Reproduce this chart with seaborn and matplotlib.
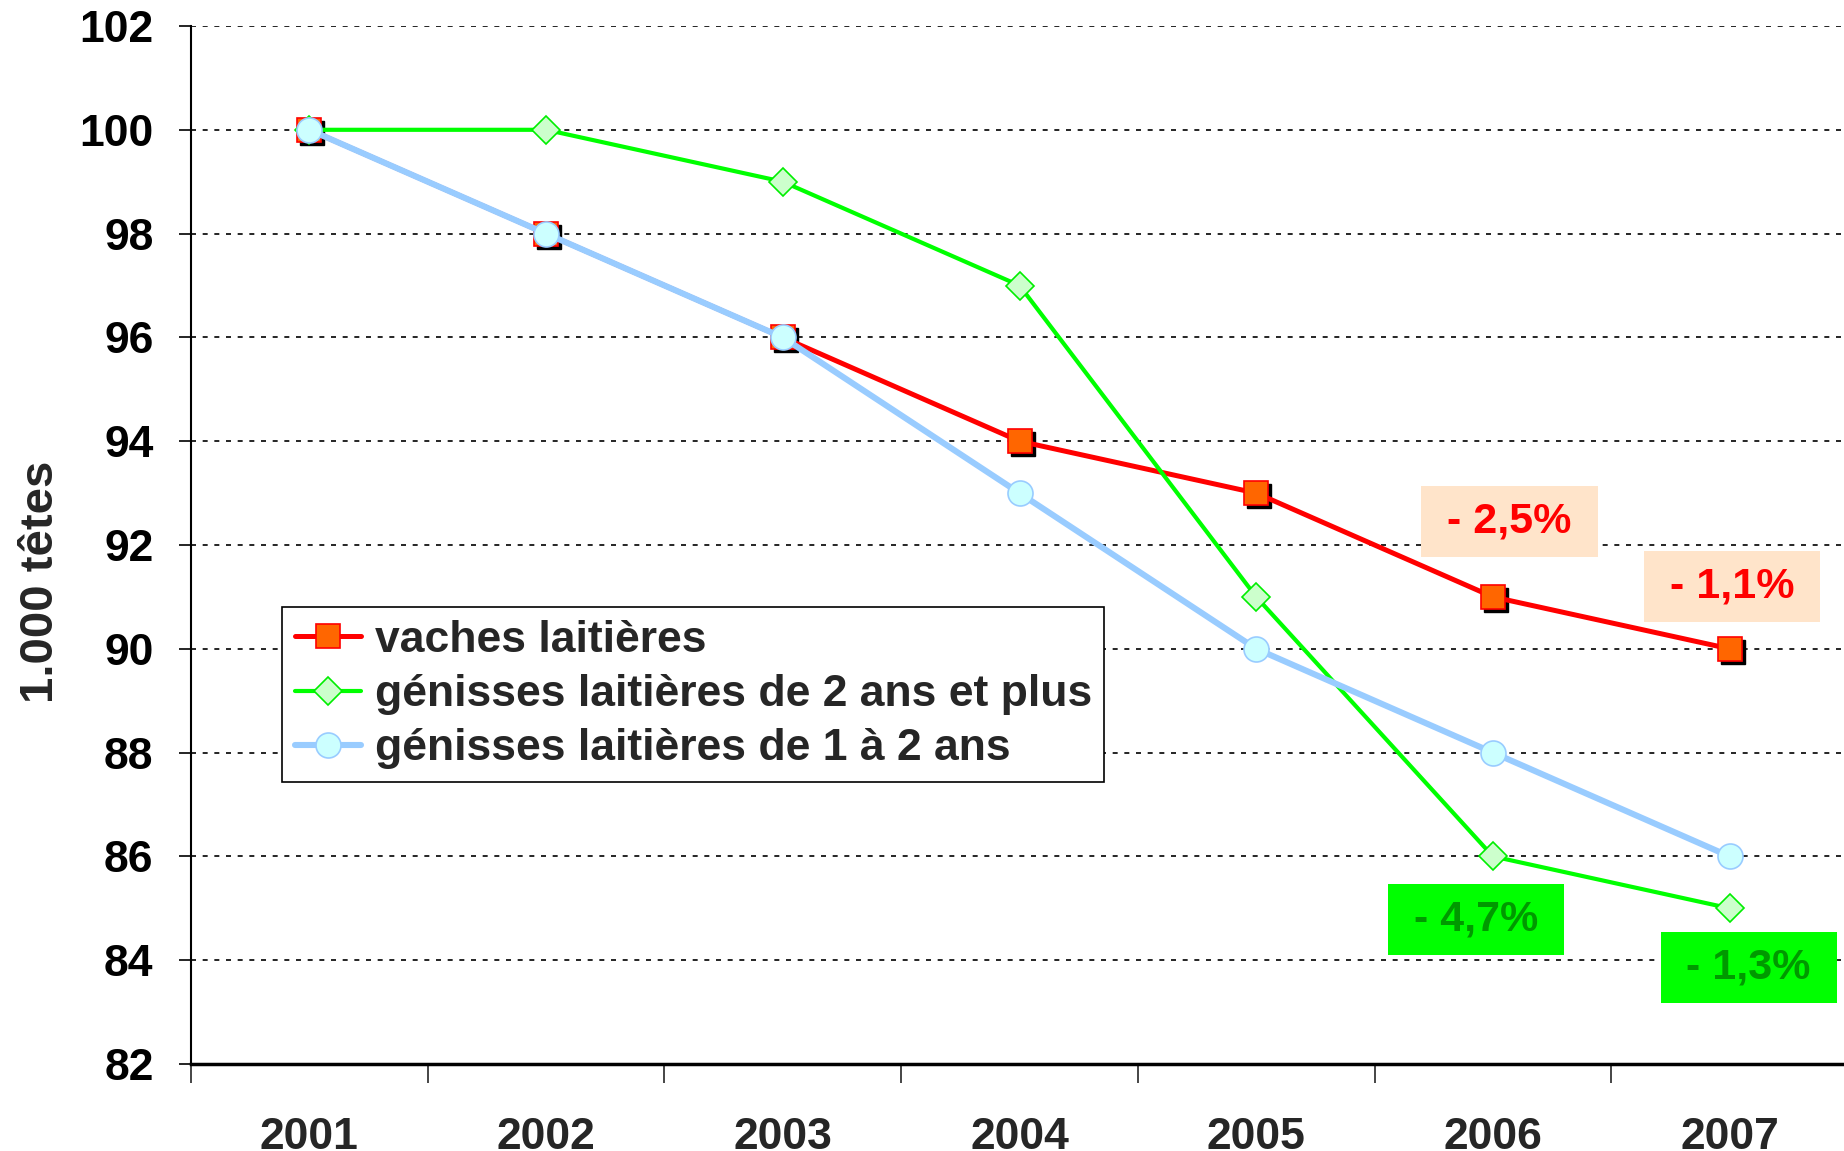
import numpy as np
import pandas as pd
import seaborn as sns
import matplotlib
matplotlib.use("Agg")
import matplotlib.pyplot as plt
from matplotlib import font_manager
from matplotlib.patches import Rectangle
import matplotlib.transforms as mtransforms

# ---- data ----
years = ["2001", "2002", "2003", "2004", "2005", "2006", "2007"]
vaches = [100, 98, 96, 94, 93, 91, 90]
genisses_2plus = [100, 100, 99, 97, 91, 86, 85]
genisses_1_2 = [100, 98, 96, 93, 90, 88, 86]
labels = ["vaches laitières", "génisses laitières de 2 ans et plus", "génisses laitières de 1 à 2 ans"]
y_ticks = [82, 84, 86, 88, 90, 92, 94, 96, 98, 100, 102]
annot_text = ["- 2,5%", "- 1,1%", "- 4,7%", "- 1,3%"]
annot_x = [5.07, 6.01, 4.93, 6.08]
annot_y = [92.46, 91.21, 84.78, 83.85]

sns.set_theme(style="white")

def has_font(name):
    try:
        font_manager.findfont(name, fallback_to_default=False)
        return True
    except Exception:
        return False

narrow = "Liberation Sans Narrow" if has_font("Liberation Sans Narrow") else "Liberation Sans"
plt.rcParams["font.family"] = ["Liberation Sans", "DejaVu Sans"]

fig = plt.figure(figsize=(18.44, 11.51), dpi=100)
ax = fig.add_axes([191 / 1844, 87 / 1151, 1657 / 1844, 1038 / 1151])

x = np.arange(len(years))

# shadow for red squares
shadow = mtransforms.offset_copy(ax.transData, fig=fig, x=3, y=-3, units="dots")
ax.plot(x, vaches, linestyle="none", marker="s", markersize=17, color="black",
        transform=shadow, zorder=3)

sns.lineplot(x=x, y=vaches, ax=ax, color="#FF0000", linewidth=3.6, marker="s",
             markersize=17, markerfacecolor="#FF6600", markeredgecolor="#FF0000",
             markeredgewidth=1.2, label=labels[0], zorder=4)
sns.lineplot(x=x, y=genisses_2plus, ax=ax, color="#00FF00", linewidth=3.0, marker="D",
             markersize=14, markerfacecolor="#CCFFCC", markeredgecolor="#00EE00",
             markeredgewidth=1.2, label=labels[1], zorder=4)
sns.lineplot(x=x, y=genisses_1_2, ax=ax, color="#99CCFF", linewidth=4.4, marker="o",
             markersize=18, markerfacecolor="#CCFFFF", markeredgecolor="#99CCFF",
             markeredgewidth=1.2, label=labels[2], zorder=4)

ax.set_xlim(-0.5, len(years) - 0.5)
ax.set_ylim(y_ticks[0], y_ticks[-1])

# y axis
ax.set_yticks(y_ticks)
ax.set_yticklabels([str(v) for v in y_ticks], fontfamily=narrow, fontweight="bold", fontsize=32)
ax.tick_params(axis="y", which="major", direction="out", length=9, width=1.2, pad=18,
               left=True, colors="black")
ax.yaxis.grid(True, color="black", linestyle=(0, (3, 4)), linewidth=1.2)
ax.xaxis.grid(False)

# x axis: boundaries as major ticks, labels on minor ticks at centers
ax.set_xticks(np.arange(len(years) + 1) - 0.5)
ax.set_xticklabels([])
ax.set_xticks(x, minor=True)
ax.set_xticklabels(years, minor=True, fontfamily=narrow, fontweight="bold", fontsize=32)
ax.tick_params(axis="x", which="major", direction="out", length=14, width=1.2, bottom=True)
ax.tick_params(axis="x", which="minor", length=0, pad=38, bottom=True)

for side in ["top", "right"]:
    ax.spines[side].set_visible(False)
ax.spines["left"].set_color("black")
ax.spines["left"].set_linewidth(1.5)
ax.spines["bottom"].set_color("black")
ax.spines["bottom"].set_linewidth(2.5)

ax.set_xlabel("")
ax.set_ylabel("1.000 têtes", fontsize=34, fontweight="bold")
ax.yaxis.label.set_va("center")
ax.yaxis.set_label_coords(-150 / 1657, 0.465)

leg = ax.legend(loc="upper left", bbox_to_anchor=(0.055, 0.440), borderaxespad=0,
                frameon=True, fancybox=False, edgecolor="black", framealpha=1,
                prop={"weight": "bold", "size": 32}, handlelength=1.5,
                handletextpad=0.3, labelspacing=0.3, borderpad=0.28)
leg.get_frame().set_linewidth(1.2)

# annotations
box_w = 176 / 236.7
box_h = 71 / 51.9
face = ["#FFE4CA", "#FFE4CA", "#00FF00", "#00FF00"]
tcol = ["#FF0000", "#FF0000", "#009900", "#009900"]
for t, xx, yy, fc, tc in zip(annot_text, annot_x, annot_y, face, tcol):
    ax.add_patch(Rectangle((xx - box_w / 2, yy - box_h / 2), box_w, box_h,
                           facecolor=fc, edgecolor="none", zorder=5, clip_on=False))
    ax.text(xx, yy, t, ha="center", va="center", fontsize=31, fontweight="bold",
            color=tc, zorder=6)

fig.savefig("out.png", dpi=100)
